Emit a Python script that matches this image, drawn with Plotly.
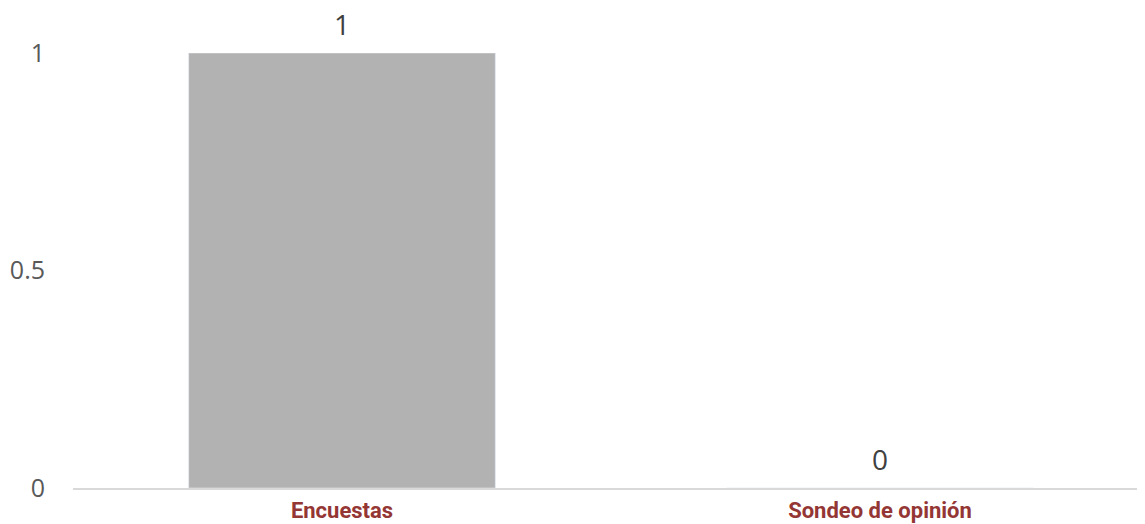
import plotly.graph_objects as go

categorias = ["Encuestas", "Sondeo de opinión"]
valores = [1, 0]
etiquetas_y = ["0", "0.5", "1"]
valores_y = [0, 0.5, 1]

fig = go.Figure()

fig.add_trace(
    go.Bar(
        x=categorias, y=valores,
        marker=dict(color="#b2b2b2"),
        width=0.57,
        hoverinfo="x+y",
    )
)

# etiquetas de datos encima de cada barra
for c, v in zip(categorias, valores):
    fig.add_annotation(
        x=c, y=v, text=str(v), showarrow=False,
        yanchor="bottom", yshift=9, borderpad=0,
        font=dict(family="Open Sans", size=28, color="#404040"),
    )

# la página tiene un margen de 8px en el body: se compensa aquí
fig.update_layout(
    width=1145, height=524,
    margin=dict(l=65, r=4, t=45, b=44, autoexpand=False),
    plot_bgcolor="white", paper_bgcolor="white",
    showlegend=False,
)

fig.update_xaxes(
    showline=True, linecolor="#d9d9d9", linewidth=2,
    ticks="", showgrid=False, automargin=False,
    tickfont=dict(family="Roboto", size=22, color="#943634", weight="bold"),
    ticklabelstandoff=2,
)

fig.update_yaxes(
    range=[0, 1], showgrid=False, zeroline=False, showline=False,
    tickvals=valores_y, ticktext=etiquetas_y, automargin=False,
    tickfont=dict(family="Open Sans", size=25, color="#595959"),
    ticklabelstandoff=27,
)

fig.write_html("out.html")
